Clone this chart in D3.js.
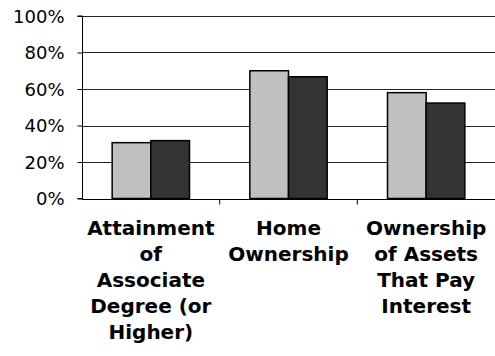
<!DOCTYPE html>
<html>
<head>
<meta charset="utf-8">
<script src="https://cdn.jsdelivr.net/npm/d3@7"></script>
<style>
  html, body { margin: 0; padding: 0; background: #fff; }
  svg { display: block; }
</style>
</head>
<body>
<svg id="chart" width="495" height="356"></svg>
<script>
const categories = ["Attainment of Associate Degree (or Higher)", "Home Ownership", "Ownership of Assets That Pay Interest"];
const categoryLines = [
  ["Attainment", "of", "Associate", "Degree (or", "Higher)"],
  ["Home", "Ownership"],
  ["Ownership", "of Assets", "That Pay", "Interest"]
];
const seriesNames = ["Series 1", "Series 2"];
const series1 = [0.306, 0.700, 0.580];
const series2 = [0.317, 0.667, 0.523];
const yTicks = [0, 0.2, 0.4, 0.6, 0.8, 1.0];
const yTickLabels = ["0%", "20%", "40%", "60%", "80%", "100%"];
const seriesColors = ["#c0c0c0", "#333333"];

const svg = d3.select("#chart");
const x0 = 82, x1 = 495, yTop = 16, yBot = 198.5;

const x = d3.scaleBand().domain(categories).range([x0, x1]).paddingInner(0).paddingOuter(0);
const xs = d3.scaleBand().domain(seriesNames).range([0, x.bandwidth()]).paddingInner(0).paddingOuter(0.78);
const y = d3.scaleLinear().domain([0, 1]).range([yBot, yTop]);

// gridlines
svg.append("g").selectAll("line").data(yTicks.slice(1)).join("line")
  .attr("x1", x0).attr("x2", x1)
  .attr("y1", d => Math.round(y(d)) + 0.5).attr("y2", d => Math.round(y(d)) + 0.5)
  .attr("stroke", "#222").attr("stroke-width", 1);

// bars
const data = categories.map((c, i) => ({ c, vals: [series1[i], series2[i]] }));
const groups = svg.append("g").selectAll("g").data(data).join("g")
  .attr("transform", d => `translate(${x(d.c)},0)`);
groups.selectAll("rect").data(d => d.vals.map((v, j) => ({ v, s: seriesNames[j], j }))).join("rect")
  .attr("x", d => xs(d.s))
  .attr("width", xs.bandwidth())
  .attr("y", d => y(d.v))
  .attr("height", d => y(0) - y(d.v))
  .attr("fill", d => seriesColors[d.j])
  .attr("stroke", "#000").attr("stroke-width", 1.5);

// y axis
const yAxis = d3.axisLeft(y).tickValues(yTicks).tickFormat((d, i) => yTickLabels[i]).tickSize(5).tickPadding(13);
const gy = svg.append("g").attr("transform", `translate(${x0 + 0.5},0)`).call(yAxis);
gy.select(".domain").attr("stroke", "#000").attr("d", `M-5,${yTop}H0V${yBot}H-5`);
gy.selectAll(".tick line").attr("stroke", "#000");
gy.selectAll(".tick text").attr("font-family", "DejaVu Sans, Verdana, sans-serif").attr("font-size", 18).attr("fill", "#000").attr("dy", "0.35em");

// x axis
const gx = svg.append("g").attr("transform", `translate(0,${Math.round(yBot) + 0.5})`);
gx.append("line").attr("x1", x0).attr("x2", x1).attr("stroke", "#000");
const boundaries = categories.map(c => x(c)).concat([x1]);
gx.selectAll("line.tk").data(boundaries.slice(1, 3)).join("line").attr("class", "tk")
  .attr("x1", d => d).attr("x2", d => d).attr("y1", 0).attr("y2", 5).attr("stroke", "#000");

// category labels
const lab = svg.append("g").selectAll("text").data(categories).join("text")
  .attr("text-anchor", "middle")
  .attr("font-family", "DejaVu Sans, Verdana, sans-serif")
  .attr("font-weight", "bold").attr("font-size", 20).attr("fill", "#000")
  .attr("transform", d => `translate(${x(d) + x.bandwidth() / 2},235)`);
lab.selectAll("tspan").data((d, i) => categoryLines[i]).join("tspan")
  .attr("x", 0).attr("y", (d, i) => i * 26).text(d => d);
</script>
</body>
</html>
